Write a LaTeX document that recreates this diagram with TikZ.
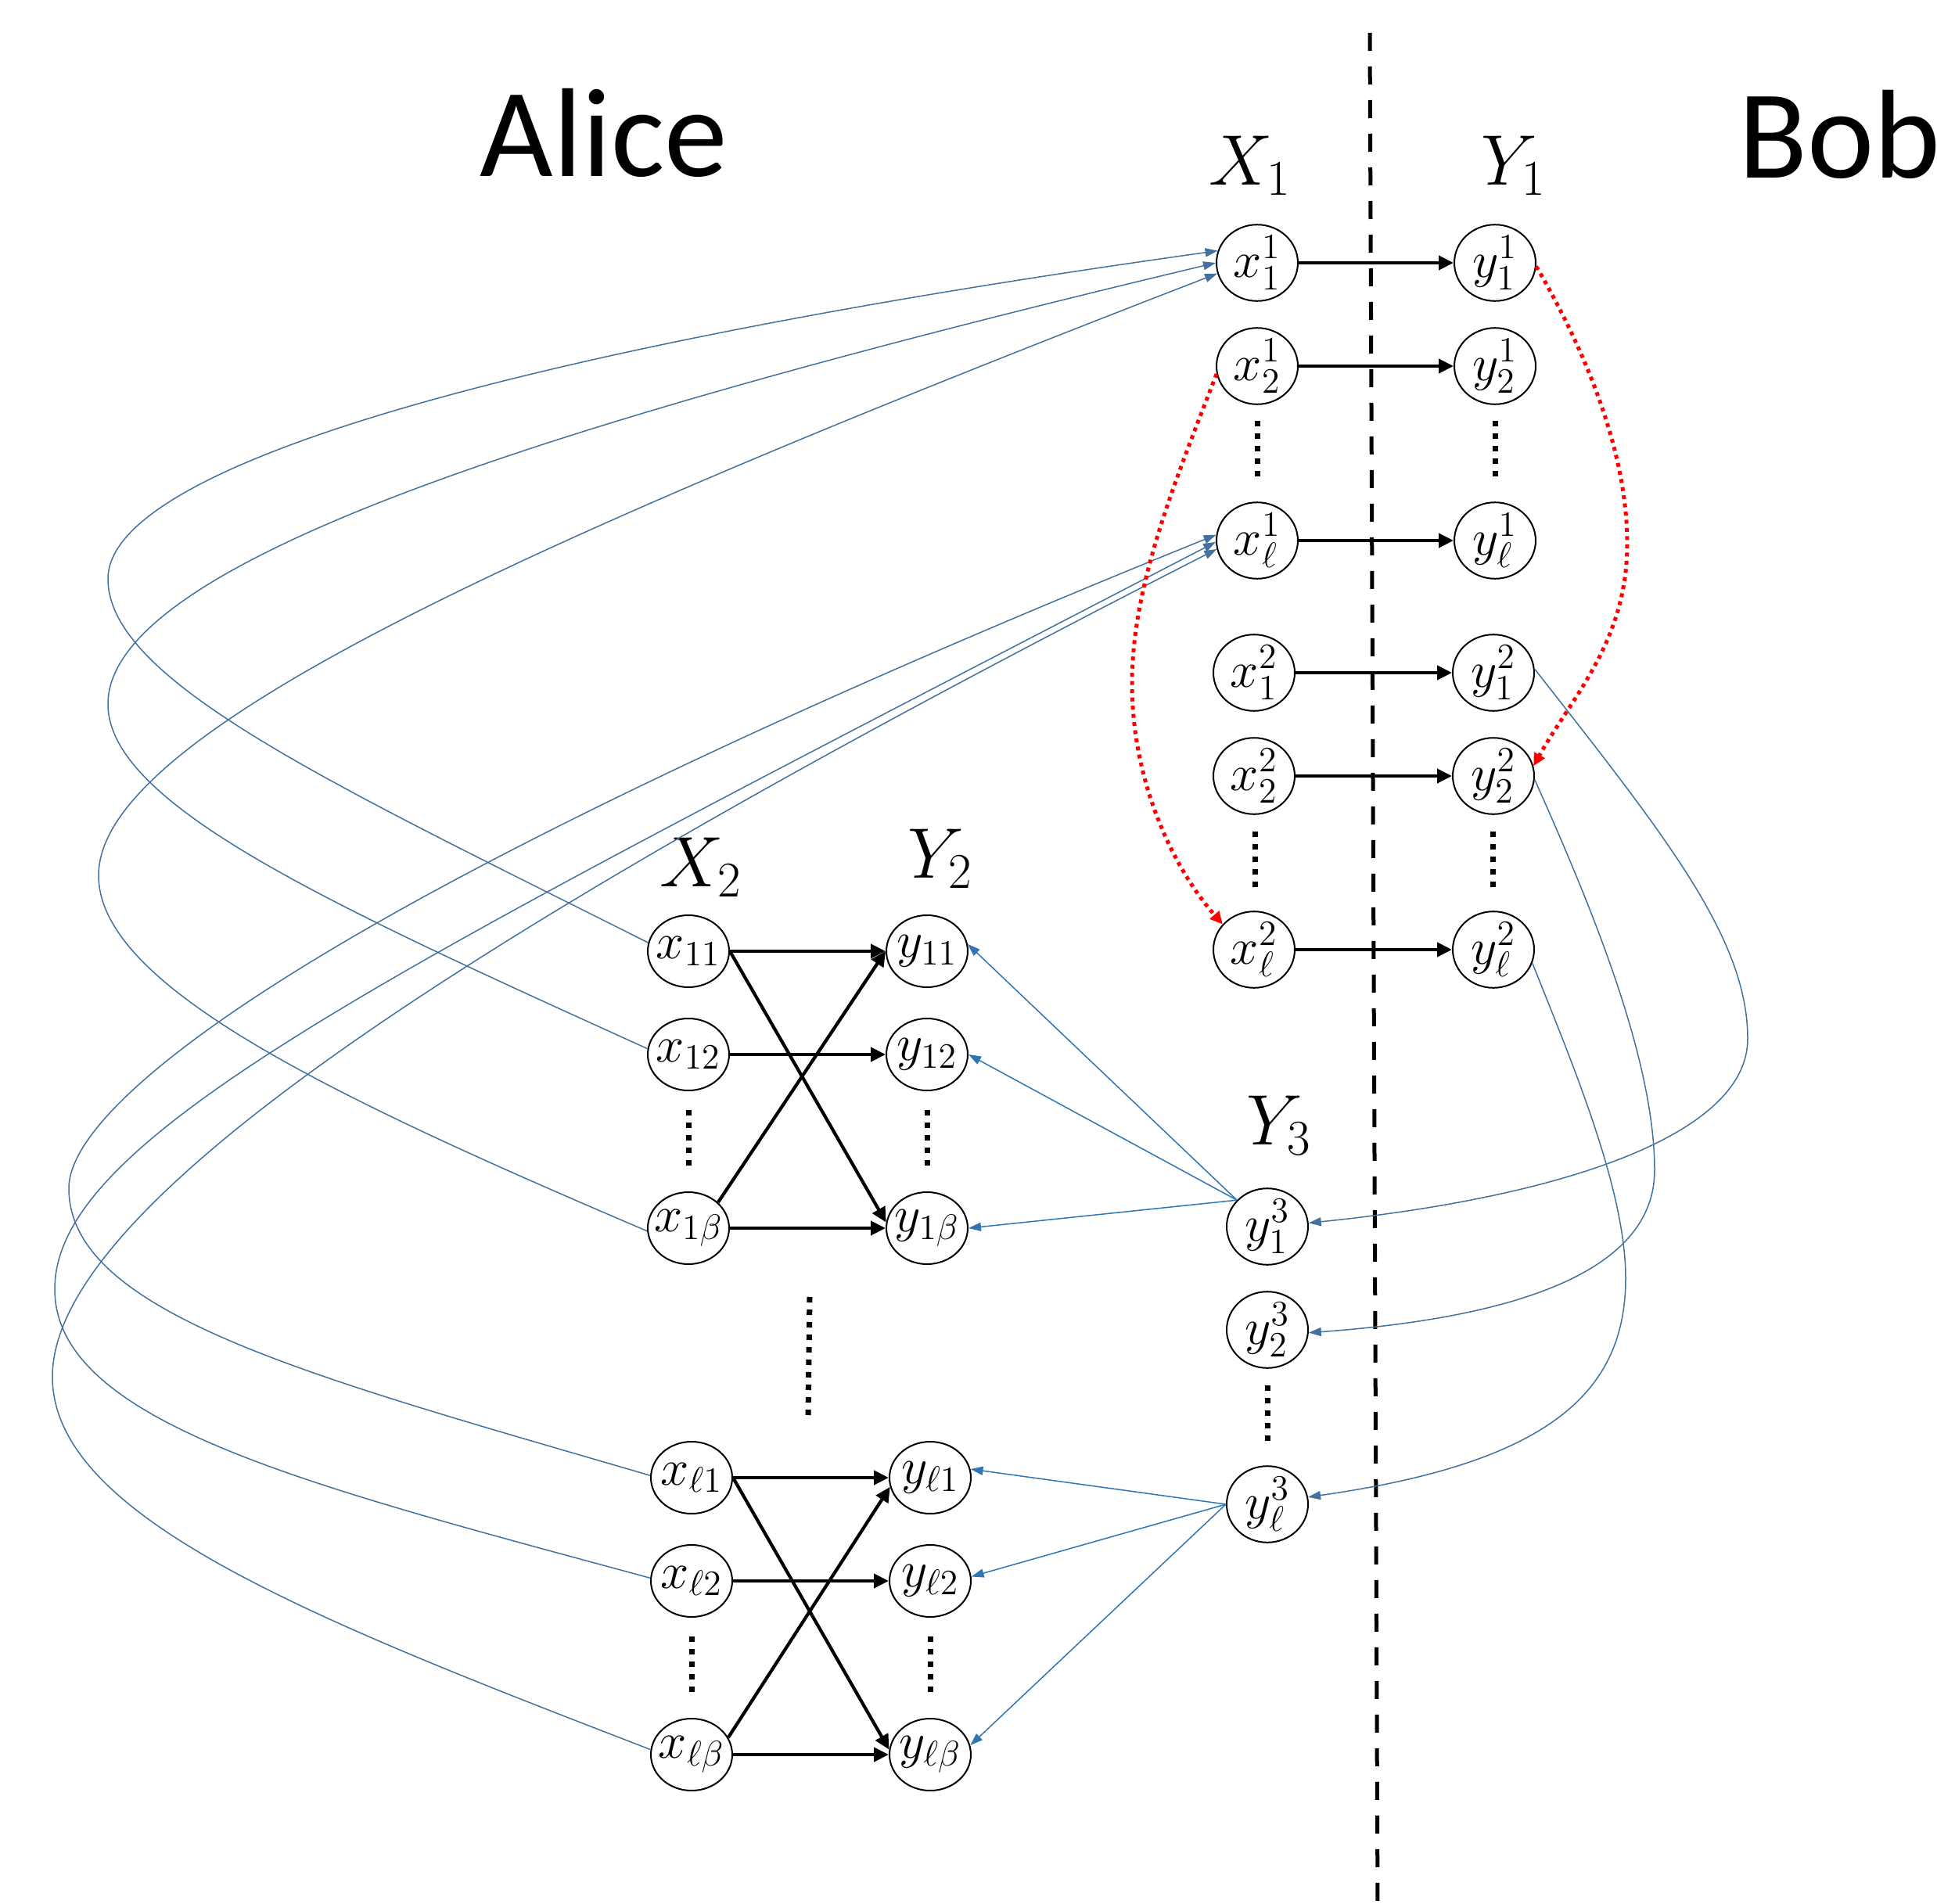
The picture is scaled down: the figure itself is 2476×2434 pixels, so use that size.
\RequirePackage{fix-cm}
\documentclass[tikz,border=0pt]{standalone}
\usepackage{fontspec}
\newfontfamily\calibri{Carlito}
\usetikzlibrary{arrows.meta,shapes.geometric}
\definecolor{curveblue}{RGB}{65,113,156}
\definecolor{linkblue}{RGB}{46,117,182}
\newcommand\nodetxt[1]{\makebox[0pt]{#1}}
\tikzset{
  ell/.style={ellipse, draw, line width=0.2mm, minimum width=10.4mm, minimum height=9.2mm, inner sep=0pt, font=\fontsize{18.5}{20}\selectfont},
  blk/.style={line width=0.42mm, -{Triangle[length=1.9mm,width=1.8mm]}},
  bcurve/.style={draw=curveblue, line width=0.15mm, -{Triangle[length=1.6mm,width=1.1mm]}},
  blink/.style={draw=linkblue, line width=0.15mm, -{Triangle[length=1.6mm,width=1.1mm]}},
  reddot/.style={draw=red, line width=0.5mm, dash pattern=on 0.5mm off 0.55mm, -{Triangle[length=1.6mm,width=1.5mm]}},
  vdots/.style={line width=0.7mm, dash pattern=on 0.7mm off 0.9mm},
  divider/.style={line width=0.5mm, dash pattern=on 2.3mm off 2mm},
  biglabel/.style={anchor=base west, inner sep=0pt, font=\calibri\fontsize{46}{50}\selectfont},
  setlabel/.style={anchor=base west, inner sep=0pt, font=\fontsize{26}{30}\selectfont}
}
\begin{document}
\begin{tikzpicture}[x=0.1mm,y=-0.1mm]
\useasboundingbox (0,0) rectangle (2476,2434);

% titles
\node[biglabel] (alice) at (613,225) {Alice};
\node[biglabel] (bob) at (2222,227) {Bob};
\node[setlabel] (X1) at (1545,236) {$X_1$};
\node[setlabel] (Y1) at (1893,236) {$Y_1$};
\node[setlabel] (X2) at (843,1133) {$X_2$};
\node[setlabel] (Y2) at (1160,1122) {$Y_2$};
\node[setlabel] (Y3) at (1593,1463) {$Y_3$};

% divider
\coordinate (dtop) at (1751,42);
\coordinate (dbot) at (1761,2434);
\draw[divider] (dtop) -- (dbot);

% Bob-side columns
\node[ell] (x11n) at (1607,336) {\nodetxt{$x_1^1$}};
\node[ell] (y11n) at (1911,336) {\nodetxt{$y_1^1$}};
\node[ell] (x12n) at (1607,468) {\nodetxt{$x_2^1$}};
\node[ell] (y12n) at (1911,468) {\nodetxt{$y_2^1$}};
\node[ell] (x1ln) at (1607,691) {\nodetxt{$x_\ell^1$}};
\node[ell] (y1ln) at (1911,691) {\nodetxt{$y_\ell^1$}};
\node[ell] (x21n) at (1603,860) {\nodetxt{$x_1^2$}};
\node[ell] (y21n) at (1909,860) {\nodetxt{$y_1^2$}};
\node[ell] (x22n) at (1603,992) {\nodetxt{$x_2^2$}};
\node[ell] (y22n) at (1909,992) {\nodetxt{$y_2^2$}};
\node[ell] (x2ln) at (1603,1214) {\nodetxt{$x_\ell^2$}};
\node[ell] (y2ln) at (1909,1214) {\nodetxt{$y_\ell^2$}};

% Alice-side blocks
\node[ell] (a11) at (880,1216) {\nodetxt{$x_{11}$}};
\node[ell] (b11) at (1185,1216) {\nodetxt{$y_{11}$}};
\node[ell] (a12) at (880,1348) {\nodetxt{$x_{12}$}};
\node[ell] (b12) at (1185,1348) {\nodetxt{$y_{12}$}};
\node[ell] (a1b) at (880,1570) {\nodetxt{$x_{1\beta}$}};
\node[ell] (b1b) at (1185,1570) {\nodetxt{$y_{1\beta}$}};
\node[ell] (al1) at (884,1889) {\nodetxt{$x_{\ell 1}$}};
\node[ell] (bl1) at (1189,1889) {\nodetxt{$y_{\ell 1}$}};
\node[ell] (al2) at (884,2021) {\nodetxt{$x_{\ell 2}$}};
\node[ell] (bl2) at (1189,2021) {\nodetxt{$y_{\ell 2}$}};
\node[ell] (alb) at (884,2243) {\nodetxt{$x_{\ell\beta}$}};
\node[ell] (blb) at (1189,2243) {\nodetxt{$y_{\ell\beta}$}};

% Y3 column
\node[ell] (z1) at (1620,1568) {\nodetxt{$y_1^3$}};
\node[ell] (z2) at (1620,1700) {\nodetxt{$y_2^3$}};
\node[ell] (zl) at (1620,1923) {\nodetxt{$y_\ell^3$}};

% vertical ellipsis dots
\draw[vdots] (1607,538) -- (1607,610);
\draw[vdots] (1911,538) -- (1911,610);
\draw[vdots] (1604,1063) -- (1604,1135);
\draw[vdots] (1908,1063) -- (1908,1135);
\draw[vdots] (880,1419) -- (880,1491);
\draw[vdots] (1185,1419) -- (1185,1491);
\draw[vdots] (884,2092) -- (884,2164);
\draw[vdots] (1189,2092) -- (1189,2164);
\draw[vdots] (1620,1771) -- (1620,1843);
\draw[vdots] (1035,1658) -- (1033,1810);

% black arrows, Bob side
\draw[blk] (x11n.east) -- (y11n.west);
\draw[blk] (x12n.east) -- (y12n.west);
\draw[blk] (x1ln.east) -- (y1ln.west);
\draw[blk] (x21n.east) -- (y21n.west);
\draw[blk] (x22n.east) -- (y22n.west);
\draw[blk] (x2ln.east) -- (y2ln.west);

% black arrows, Alice side
\draw[blk] (a11.east) -- (b11.west);
\draw[blk] (a11.east) -- (b1b.172);
\draw[blk] (a12.east) -- (b12.west);
\draw[blk] (a1b.41) -- (b11.west);
\draw[blk] (a1b.east) -- (b1b.west);
\draw[blk] (al1.east) -- (bl1.west);
\draw[blk] (al1.east) -- (blb.173);
\draw[blk] (al2.east) -- (bl2.west);
\draw[blk] (alb.25) -- (bl1.193);
\draw[blk] (alb.east) -- (blb.west);

% blue loops from Alice x's to x^1 nodes
\draw[bcurve] (a11.168) .. controls (420,1000) and (138,870) .. (138,740)
  .. controls (138,590) and (700,440) .. (x11n.163);
\draw[bcurve] (a12.172) .. controls (430,1160) and (138,1030) .. (138,900)
  .. controls (138,720) and (700,540) .. (x11n.180);
\draw[bcurve] (a1b.184) .. controls (420,1400) and (126,1260) .. (126,1119)
  .. controls (126,940) and (650,700) .. (x11n.195);
\draw[bcurve] (al1.177) .. controls (400,1760) and (88,1680) .. (88,1519)
  .. controls (88,1400) and (450,1130) .. (x1ln.172);
\draw[bcurve] (al2.176) .. controls (400,1900) and (70,1820) .. (70,1648)
  .. controls (70,1450) and (500,1240) .. (x1ln.182);
\draw[bcurve] (alb.173) .. controls (400,2070) and (67,1940) .. (67,1760)
  .. controls (67,1560) and (500,1240) .. (x1ln.192);

% blue loops from y^2 nodes to y^3 nodes
\draw[bcurve] (y21n.5) .. controls (2130,1070) and (2234,1200) .. (2234,1328)
  .. controls (2234,1450) and (2000,1530) .. (z1.5);
\draw[bcurve] (y22n.-5) .. controls (2030,1150) and (2115,1350) .. (2115,1496)
  .. controls (2115,1600) and (2000,1680) .. (z2.-4);
\draw[bcurve] (y2ln.-19) .. controls (2010,1360) and (2078,1520) .. (2078,1634)
  .. controls (2078,1780) and (1980,1870) .. (zl.10);

% blue straight arrows from y^3 nodes
\draw[blink] (z1.139) -- (b11.10);
\draw[blink] (z1.139) -- (b12.0);
\draw[blink] (z1.139) -- (b1b.0);
\draw[blink] (zl.west) -- (bl1.12);
\draw[blink] (zl.west) -- (bl2.6);
\draw[blink] (zl.west) -- (blb.13);

% red dotted arrows
\draw[reddot] (y11n.-5) .. controls (2010,420) and (2080,560) .. (2080,695)
  .. controls (2080,820) and (2010,890) .. (y22n.14);
\draw[reddot] (x12n.191) .. controls (1500,620) and (1447,750) .. (1447,874)
  .. controls (1447,1000) and (1500,1110) .. (x2ln.141);
\end{tikzpicture}
\end{document}
